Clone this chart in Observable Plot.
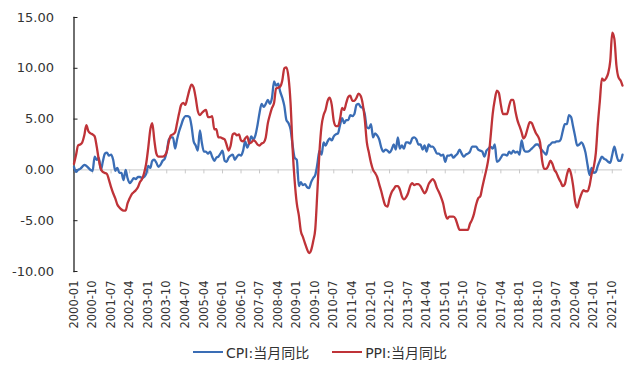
<!DOCTYPE html>
<html>
<head>
<meta charset="utf-8">
<script src="https://cdn.jsdelivr.net/npm/d3@7"></script>
<script src="https://cdn.jsdelivr.net/npm/@observablehq/plot@0.6"></script>
<style>
  html, body { margin: 0; padding: 0; background: #fff; }
  #chart { width: 640px; height: 374px; font-family: "DejaVu Sans", "Noto Sans CJK SC", sans-serif; }
  .legend { display: flex; justify-content: center; align-items: center; gap: 23px; height: 20px; margin-top: 4px; font-size: 14px; color: #333; }
  .legend .item { display: flex; align-items: center; }
  .legend .swatch { width: 30px; height: 2px; margin-right: 3px; }
</style>
</head>
<body>
<div id="chart"></div>
<script>
// ---- data (monthly, starting 2000-01) ----
const startYear = 2000;
const seriesNames = ["CPI:当月同比", "PPI:当月同比"];
const cpi = [
  0.3, -0.2, 0.0, 0.1, 0.3, 0.5, 0.4, 0.2, 0.0, -0.1, 1.3, 1.0,
  1.2, 0.0, 0.8, 1.6, 1.7, 1.4, 1.5, 1.0, -0.1, 0.2, -0.3, -0.3,
  -1.0, 0.0, -0.8, -1.3, -1.1, -0.8, -0.9, -0.7, -0.7, -0.8, -0.7, -0.4,
  0.4, 0.2, 0.9, 1.0, 0.7, 0.3, 0.5, 0.9, 1.1, 1.8, 3.0, 3.2,
  3.2, 2.1, 3.0, 3.8, 4.4, 5.0, 5.3, 5.3, 5.2, 4.3, 2.8, 2.4,
  1.9, 3.9, 2.7, 1.8, 1.8, 1.6, 1.8, 1.3, 0.9, 1.2, 1.3, 1.6,
  1.9, 0.9, 0.8, 1.2, 1.4, 1.5, 1.0, 1.3, 1.5, 1.4, 1.9, 2.8,
  2.2, 2.7, 3.3, 3.0, 3.4, 4.4, 5.6, 6.5, 6.2, 6.5, 6.9, 6.5,
  7.1, 8.7, 8.3, 8.5, 7.7, 7.1, 6.3, 4.9, 4.6, 4.0, 2.4, 1.2,
  1.0, -1.6, -1.2, -1.5, -1.4, -1.7, -1.8, -1.2, -0.8, -0.5, 0.6, 1.9,
  1.5, 2.7, 2.4, 2.8, 3.1, 2.9, 3.3, 3.5, 3.6, 4.4, 5.1, 4.6,
  4.9, 4.9, 5.4, 5.3, 5.5, 6.4, 6.5, 6.2, 6.1, 5.5, 4.2, 4.1,
  4.5, 3.2, 3.6, 3.4, 3.0, 2.2, 1.8, 2.0, 1.9, 1.7, 2.0, 2.5,
  2.0, 3.2, 2.1, 2.4, 2.1, 2.7, 2.7, 2.6, 3.1, 3.2, 3.0, 2.5,
  2.5, 2.0, 2.4, 1.8, 2.5, 2.3, 2.3, 2.0, 1.6, 1.6, 1.4, 1.5,
  0.8, 1.4, 1.4, 1.5, 1.2, 1.4, 1.6, 2.0, 1.6, 1.3, 1.5, 1.6,
  1.8, 2.3, 2.3, 2.3, 2.0, 1.9, 1.8, 1.3, 1.9, 2.1, 2.3, 2.1,
  2.5, 0.8, 0.9, 1.2, 1.5, 1.5, 1.4, 1.8, 1.6, 1.9, 1.7, 1.8,
  1.5, 2.9, 2.1, 1.8, 1.8, 1.9, 2.1, 2.3, 2.5, 2.5, 2.2, 1.9,
  1.7, 1.5, 2.3, 2.5, 2.7, 2.7, 2.8, 2.8, 3.0, 3.8, 4.5, 4.5,
  5.4, 5.2, 4.3, 3.3, 2.4, 2.5, 2.7, 2.4, 1.7, 0.5, -0.5, 0.2,
  -0.3, -0.2, 0.4, 0.9, 1.3, 1.1, 1.0, 0.8, 0.7, 1.5, 2.3, 1.5,
  0.9, 0.9, 1.5
];
const ppi = [
  0.6, 1.5, 2.4, 2.5, 2.7, 3.4, 4.4, 3.8, 3.6, 3.5, 3.3, 2.3,
  1.0, 0.1, -0.2, -0.3, -0.4, -1.0, -1.7, -2.3, -2.8, -3.4, -3.7, -3.9,
  -4.0, -4.0, -3.3, -2.8, -2.4, -2.2, -2.0, -1.7, -1.2, -0.9, -0.3, 0.6,
  2.2, 4.0, 4.6, 2.9, 1.6, 1.3, 1.3, 1.3, 1.4, 1.8, 2.8, 3.4,
  3.5, 3.7, 4.6, 5.6, 6.4, 6.6, 6.4, 7.1, 7.9, 8.4, 8.1, 7.1,
  5.8, 5.4, 5.6, 5.8, 5.9, 5.2, 5.2, 5.3, 4.0, 4.0, 3.2, 3.2,
  3.1, 3.0, 2.5, 1.9, 2.4, 3.5, 3.6, 3.4, 3.5, 2.9, 2.8, 3.1,
  3.3, 2.6, 2.7, 2.9, 2.8, 2.5, 2.4, 2.6, 2.7, 3.2, 4.6, 5.4,
  6.1, 6.6, 8.0, 8.1, 8.2, 8.8, 10.0, 10.1, 9.1, 6.6, 2.0, -1.1,
  -3.3, -4.5, -6.0, -6.6, -7.2, -7.8, -8.2, -7.9, -7.0, -5.8, -2.1, 1.7,
  4.3, 5.4, 5.9, 6.8, 7.1, 6.4, 4.8, 4.3, 4.3, 5.0, 6.1, 5.9,
  6.6, 7.2, 7.3, 6.8, 6.8, 7.1, 7.5, 7.3, 6.5, 5.0, 2.7, 1.7,
  0.7, 0.0, -0.3, -0.7, -1.4, -2.1, -2.9, -3.5, -3.6, -2.8, -2.2, -1.9,
  -1.6, -1.6, -1.9, -2.6, -2.9, -2.7, -2.3, -1.6, -1.3, -1.5, -1.4, -1.4,
  -1.6, -2.0, -2.3, -2.0, -1.4, -1.1, -0.9, -1.2, -1.8, -2.2, -2.7, -3.3,
  -4.3, -4.8, -4.6, -4.6, -4.6, -4.8, -5.4, -5.9, -5.9, -5.9, -5.9, -5.9,
  -5.3, -4.9, -4.3, -3.4, -2.8, -2.6, -1.7, -0.8, 0.1, 1.2, 3.3, 5.5,
  6.9, 7.8, 7.6, 6.4, 5.5, 5.5, 5.5, 6.3, 6.9, 6.9, 5.8, 4.9,
  4.3, 3.7, 3.1, 3.4, 4.1, 4.7, 4.6, 4.1, 3.6, 3.3, 2.7, 0.9,
  0.1, 0.1, 0.4, 0.9, 0.6, 0.0, -0.3, -0.8, -1.2, -1.6, -1.4, -0.5,
  0.1, -0.4, -1.5, -3.1, -3.7, -3.0, -2.4, -2.0, -2.1, -2.1, -1.5, -0.4,
  0.3, 1.7, 4.4, 6.8, 9.0, 8.8, 9.0, 9.5, 10.7, 13.5, 12.9, 10.3,
  9.1, 8.8, 8.3
];
const xTickLabels = [
  "2000-01","2000-10","2001-07","2002-04","2003-01","2003-10","2004-07","2005-04",
  "2006-01","2006-10","2007-07","2008-04","2009-01","2009-10","2010-07","2011-04",
  "2012-01","2012-10","2013-07","2014-04","2015-01","2015-10","2016-07","2017-04",
  "2018-01","2018-10","2019-07","2020-04","2021-01","2021-10"
];
const yTicks = [-10, -5, 0, 5, 10, 15];
const colors = ["#3a6db5", "#bf3338"];

// ---- build ----
const start = new Date(Date.UTC(startYear, 0, 1));
const months = cpi.map((_, i) => d3.utcMonth.offset(start, i));
const parseMonth = d3.utcParse("%Y-%m");
const xTicks = xTickLabels.map(parseMonth);
const cpiData = months.map((date, i) => ({date, value: cpi[i]}));
const ppiData = months.map((date, i) => ({date, value: ppi[i]}));

const chart = Plot.plot({
  width: 640,
  height: 338,
  marginLeft: 73.5,
  marginRight: 18,
  marginTop: 17,
  marginBottom: 67,
  style: {fontFamily: "DejaVu Sans, Noto Sans CJK SC, sans-serif", color: "#333", background: "#fff"},
  x: {type: "utc", domain: [months[0], months[months.length - 1]]},
  y: {domain: [-10, 15]},
  marks: [
    Plot.ruleY([0], {stroke: "#c9c9c9", strokeWidth: 1}),
    Plot.ruleX(xTicks, {x: d => d, y1: 0, y2: 0, insetBottom: -4, stroke: "#c9c9c9", strokeWidth: 1}),
    Plot.frame({anchor: "left", stroke: "#222", strokeWidth: 1.3}),
    Plot.axisY({ticks: yTicks, tickSize: 4, dx: 4, text: null, label: null, stroke: "#222"}),
    Plot.axisY({ticks: yTicks, tickSize: 0, tickPadding: 20, tickFormat: d => d.toFixed(2), fontSize: 13, label: null}),
    Plot.axisX({ticks: xTicks, tickSize: 0, tickPadding: 9, tickRotate: -90, tickFormat: d3.utcFormat("%Y-%m"), fontSize: 11.5, label: null}),
    Plot.line(cpiData, {x: "date", y: "value", stroke: colors[0], strokeWidth: 2.3, curve: "monotone-x"}),
    Plot.line(ppiData, {x: "date", y: "value", stroke: colors[1], strokeWidth: 2.3, curve: "monotone-x"})
  ]
});

const root = document.getElementById("chart");
root.appendChild(chart);
const legend = document.createElement("div");
legend.className = "legend";
seriesNames.forEach((name, k) => {
  const item = document.createElement("div");
  item.className = "item";
  const sw = document.createElement("span");
  sw.className = "swatch";
  sw.style.background = colors[k];
  const label = document.createElement("span");
  label.textContent = name;
  item.appendChild(sw);
  item.appendChild(label);
  legend.appendChild(item);
});
root.appendChild(legend);
</script>
</body>
</html>
